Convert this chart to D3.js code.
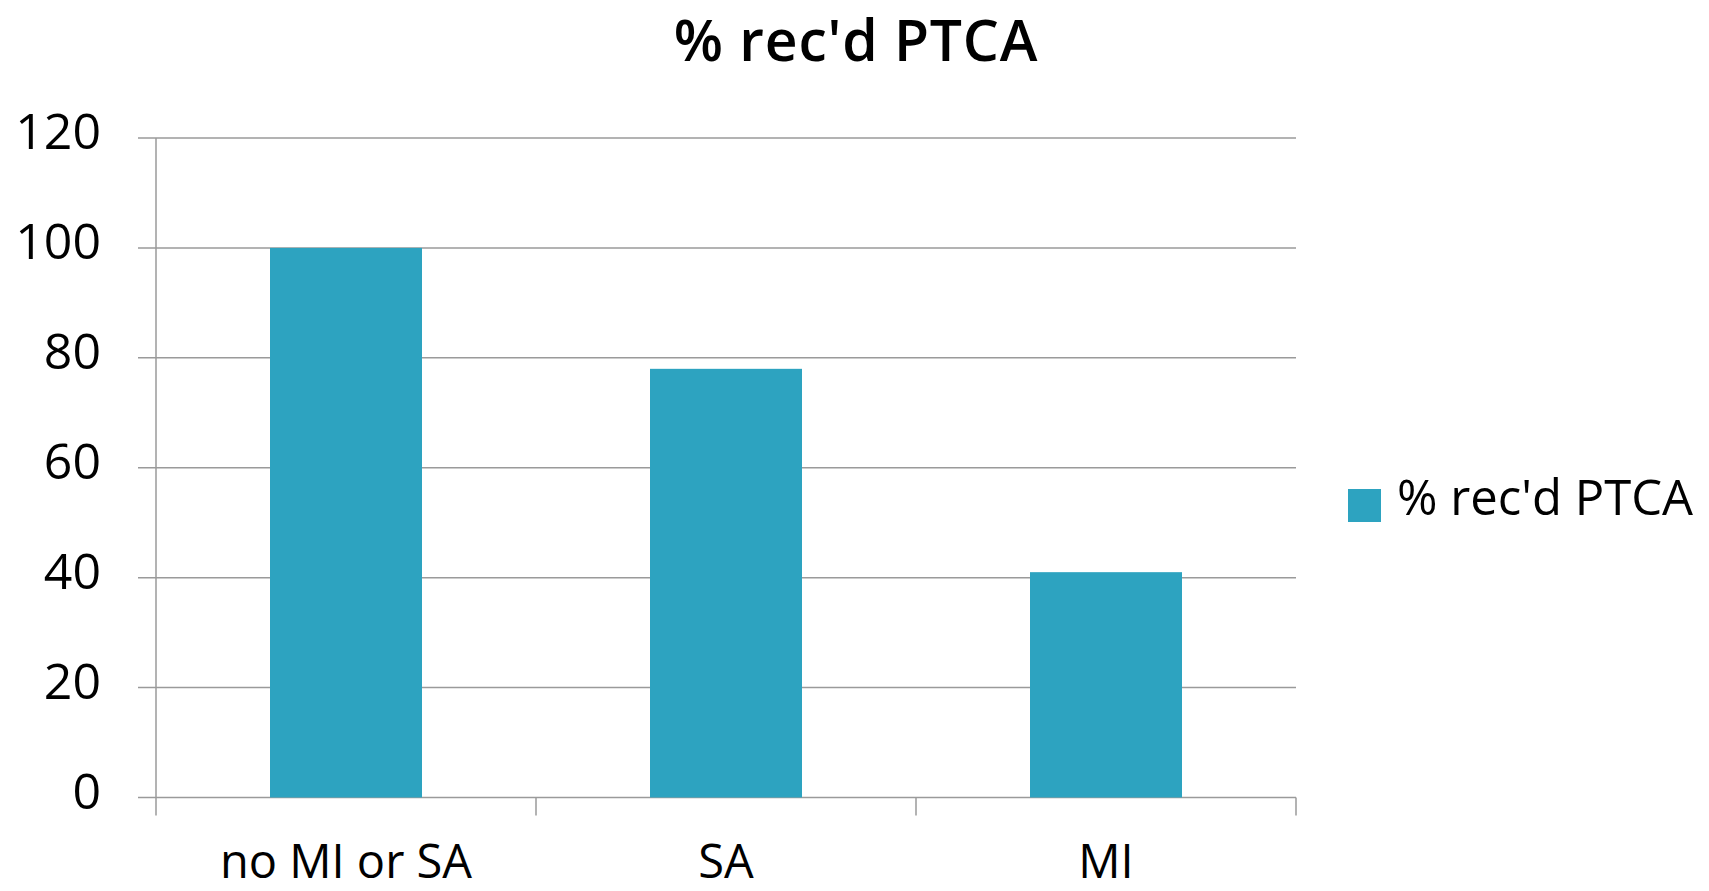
<!DOCTYPE html>
<html>
<head>
<meta charset="utf-8">
<script src="https://cdn.jsdelivr.net/npm/d3@7"></script>
<style>
  body { margin: 0; background: #fff; }
  text { font-family: "Open Sans", sans-serif; fill: #000; }
</style>
</head>
<body>
<script>
const categories = ['no MI or SA', 'SA', 'MI'];
const values = [100, 78, 41];
const yTicks = [0, 20, 40, 60, 80, 100, 120];
const seriesName = "% rec'd PTCA";

const width = 1709, height = 891;
const plotLeft = 156, plotRight = 1296, plotTop = 138, plotBottom = 797.5;

const svg = d3.select('body').append('svg')
  .attr('width', width)
  .attr('height', height);

const x = d3.scaleBand()
  .domain(categories)
  .range([plotLeft, plotRight])
  .paddingInner(0.6)
  .paddingOuter(0.3);

const y = d3.scaleLinear()
  .domain([0, 120])
  .range([plotBottom, plotTop]);

// gridlines + y ticks
svg.append('g').selectAll('line')
  .data(yTicks)
  .enter().append('line')
  .attr('x1', plotLeft - 18)
  .attr('x2', plotRight)
  .attr('y1', d => y(d))
  .attr('y2', d => y(d))
  .attr('stroke', '#9a9a9a')
  .attr('stroke-width', 1.5);

svg.append('g').selectAll('text')
  .data(yTicks)
  .enter().append('text')
  .attr('x', 101)
  .attr('y', d => y(d) - 8)
  .attr('text-anchor', 'end')
  .attr('dominant-baseline', 'central')
  .style('font-size', '50px')
  .text(d => d);

// y axis line
svg.append('line')
  .attr('x1', plotLeft).attr('x2', plotLeft)
  .attr('y1', plotTop).attr('y2', plotBottom + 18)
  .attr('stroke', '#9a9a9a')
  .attr('stroke-width', 1.5);

// x ticks at band boundaries
const step = x.step();
const xTicks = d3.range(categories.length + 1).map(i => plotLeft + i * step);
svg.append('g').selectAll('line')
  .data(xTicks.slice(1))
  .enter().append('line')
  .attr('x1', d => d).attr('x2', d => d)
  .attr('y1', plotBottom).attr('y2', plotBottom + 18)
  .attr('stroke', '#9a9a9a')
  .attr('stroke-width', 1.5);

// bars
svg.append('g').selectAll('rect')
  .data(values)
  .enter().append('rect')
  .attr('x', (d, i) => x(categories[i]))
  .attr('width', x.bandwidth())
  .attr('y', d => y(d))
  .attr('height', d => y(0) - y(d))
  .attr('fill', '#2da3c0');

// x labels
svg.append('g').selectAll('text')
  .data(categories)
  .enter().append('text')
  .attr('x', d => x(d) + x.bandwidth() / 2)
  .attr('y', 878)
  .attr('text-anchor', 'middle')
  .style('font-size', '47px')
  .text(d => d);

// title
svg.append('text')
  .attr('x', 856)
  .attr('y', 61)
  .attr('text-anchor', 'middle')
  .style('font-size', '57px')
  .style('font-weight', 600)
  .style('letter-spacing', '0.8px')
  .text(seriesName);

// legend
const legend = svg.append('g');
legend.append('rect')
  .attr('x', 1348).attr('y', 489)
  .attr('width', 33).attr('height', 33)
  .attr('fill', '#2da3c0');
legend.append('text')
  .attr('x', 1397)
  .attr('y', 515)
  .style('font-size', '49px')
  .text(seriesName);
</script>
</body>
</html>
